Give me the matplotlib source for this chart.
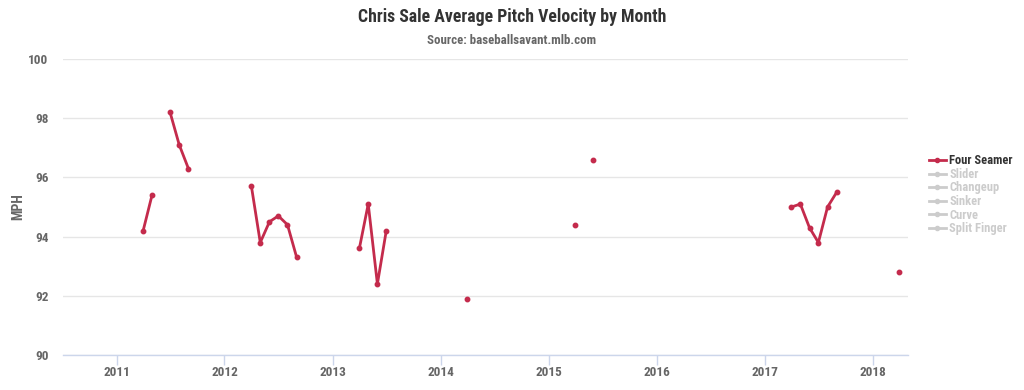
import datetime as dt
import numpy as np
import matplotlib
matplotlib.use("Agg")
import matplotlib.pyplot as plt
import matplotlib.dates as mdates
from matplotlib.lines import Line2D

plt.rcParams["font.family"] = ["Roboto Condensed", "Liberation Sans Narrow", "Roboto", "DejaVu Sans"]

# monthly average four-seam velocity, April..September of each season (None = no data)
SEASONS = [2011, 2012, 2013, 2014, 2015, 2016, 2017, 2018]
MONTHS = [4, 5, 6, 7, 8, 9]
FOUR_SEAMER = {
    2011: [94.2, 95.4, None, 98.2, 97.1, 96.3],
    2012: [95.7, 93.8, 94.5, 94.7, 94.4, 93.3],
    2013: [93.6, 95.1, 92.4, 94.2, None, None],
    2014: [91.9, None, None, None, None, None],
    2015: [94.4, None, 96.6, None, None, None],
    2016: [None, None, None, None, None, None],
    2017: [95.0, 95.1, 94.3, 93.8, 95.0, 95.5],
    2018: [92.8, None, None, None, None, None],
}
LEGEND_LABELS = ["Four Seamer", "Slider", "Changeup", "Sinker", "Curve", "Split Finger"]
Y_TICKS = [90, 92, 94, 96, 98, 100]

RED = "#c42b4c"
GRID = "#e6e6e6"
AXIS = "#ccd6eb"
LABEL = "#666666"
HIDDEN = "#cccccc"

fig = plt.figure(figsize=(10.24, 3.9), dpi=100)
ax = fig.add_axes([63 / 1024, 1 - 355 / 390, 845 / 1024, 296 / 390])

for yr in SEASONS:
    dates = [dt.datetime(yr, m, 1) for m in MONTHS]
    vals = np.array([np.nan if v is None else v for v in FOUR_SEAMER[yr]], dtype=float)
    ax.plot(dates, vals, color=RED, lw=2, marker="o", ms=3.2, zorder=3)

ax.set_ylim(90, 100)
ax.set_xlim(dt.datetime(2010, 7, 4), dt.datetime(2018, 4, 30))
ax.set_yticks(Y_TICKS)
ax.yaxis.grid(True, color=GRID, lw=1)
ax.set_axisbelow(True)
ax.xaxis.set_major_locator(mdates.YearLocator())
ax.xaxis.set_major_formatter(mdates.DateFormatter("%Y"))

for side in ("top", "right", "left"):
    ax.spines[side].set_visible(False)
ax.spines["bottom"].set_color(AXIS)
ax.spines["bottom"].set_linewidth(1)
ax.tick_params(axis="y", length=0, pad=10.5, labelsize=9.5, labelcolor=LABEL)
ax.tick_params(axis="x", length=7, width=1, color=AXIS, pad=1, labelsize=9.5, labelcolor=LABEL)
for lbl in ax.get_xticklabels() + ax.get_yticklabels():
    lbl.set_fontweight("bold")
ax.set_ylabel("MPH", fontsize=10, fontweight="bold", color=LABEL, labelpad=2)

fig.text(0.5, 1 - 17 / 390, "Chris Sale Average Pitch Velocity by Month",
         ha="center", va="center", fontsize=12.8, fontweight="bold", color="#333333")
fig.text(0.5, 1 - 41 / 390, "Source: baseballsavant.mlb.com",
         ha="center", va="center", fontsize=9.3, fontweight="bold", color=LABEL)

handles = [Line2D([], [], color=RED if i == 0 else HIDDEN, lw=2, marker="o", ms=3)
           for i in range(len(LEGEND_LABELS))]
leg = fig.legend(handles, LEGEND_LABELS, loc="upper left",
                 bbox_to_anchor=(923 / 1024, 1 - 148 / 390), frameon=False,
                 fontsize=9, handlelength=1.3, handletextpad=0.3,
                 labelspacing=0.05, borderpad=0)
for i, t in enumerate(leg.get_texts()):
    t.set_fontweight("bold")
    t.set_color("#333333" if i == 0 else HIDDEN)

fig.savefig("out.png", dpi=100, facecolor="white")
